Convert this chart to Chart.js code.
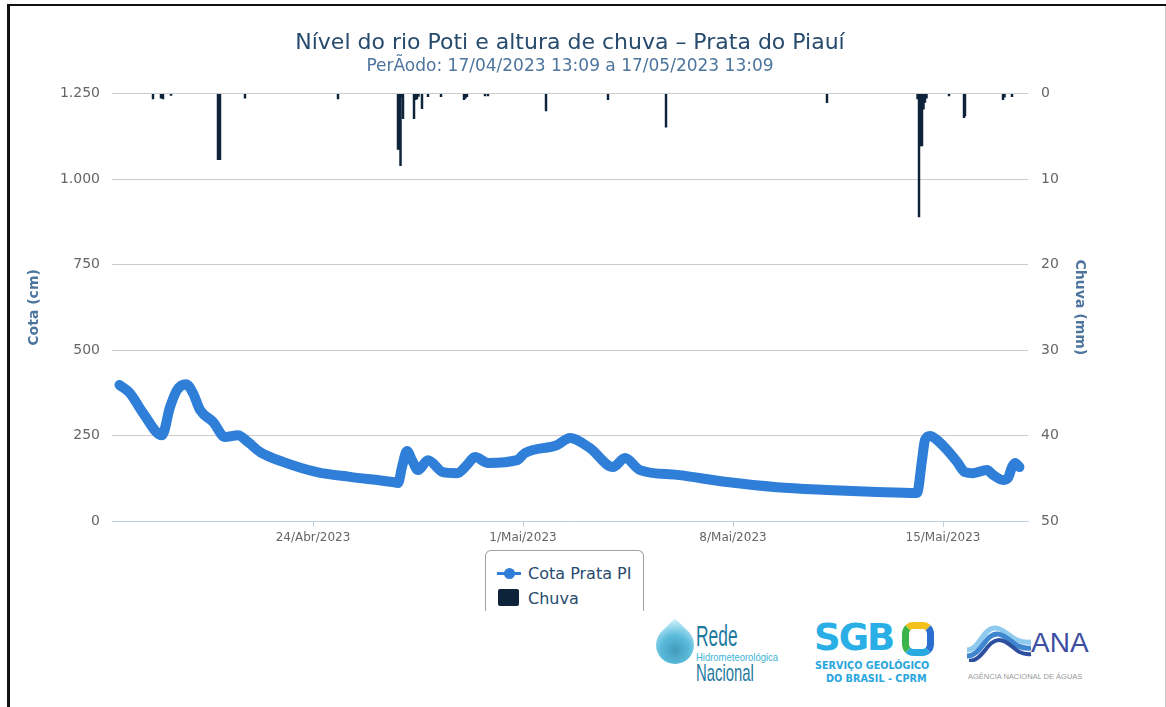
<!DOCTYPE html>
<html lang="pt-BR">
<head>
<meta charset="utf-8">
<title>Nível do rio Poti e altura de chuva – Prata do Piauí</title>
<script src="https://cdn.jsdelivr.net/npm/chart.js@4.4.0/dist/chart.umd.min.js"></script>
<style>
  html, body { margin: 0; padding: 0; background: #fff; }
  body { width: 1166px; height: 707px; position: relative; overflow: hidden; font-family: 'DejaVu Sans', sans-serif; }
  .moldura-topo { position: absolute; left: 7px; right: 0; top: 4px; height: 2px; background: #111; }
  .moldura-esq { position: absolute; left: 7px; top: 4px; bottom: 0; width: 3px; background: #111; }
  .moldura-dir { position: absolute; left: 1165px; top: 6px; bottom: 0; width: 1px; background: #c8c8c8; }
  #grafico { position: absolute; left: 10px; top: 6px; }
  #legenda { position: absolute; left: 485px; top: 550px; width: 157px; height: 60px;
    border: 1px solid #a0a0a0; border-bottom: none; border-radius: 6px 6px 0 0; background: #fff; }
  #legenda .item { position: absolute; left: 11px; height: 20px; display: flex; align-items: center;
    font-size: 16px; color: #274b6d; white-space: nowrap; }
  #legenda .simbolo { width: 24px; height: 20px; position: relative; margin-right: 7px; }
  .logo { position: absolute; white-space: nowrap; transform-origin: left top; font-family: 'Liberation Sans', Arial, sans-serif; }
  .gota { position: absolute; left: 656px; top: 626px; width: 38px; height: 38px;
    border-radius: 0 50% 50% 50%; transform: rotate(45deg);
    background: radial-gradient(circle at 60% 60%, #2d8fb3 0%, #48b3d6 45%, #9fdcef 80%, #dff4fb 100%); opacity: .9; }
</style>
</head>
<body>
<div class="moldura-topo"></div>
<div class="moldura-esq"></div>
<div class="moldura-dir"></div>
<canvas id="grafico" width="1100" height="560"></canvas>
<div id="legenda"></div>

<div class="gota"></div>
<div class="logo" style="left:696px;top:619px;font-size:30px;color:#1d7a9f;transform:scaleX(0.58);">Rede</div>
<div class="logo" style="left:696px;top:651px;font-size:11px;color:#3cb4d6;transform:scaleX(0.86);">Hidrometeorológica</div>
<div class="logo" style="left:696px;top:659px;font-size:24px;color:#1f7ba0;transform:scaleX(0.62);">Nacional</div>

<div class="logo" style="left:814px;top:616px;font-size:37px;font-weight:bold;color:#29aee6;letter-spacing:-2px;font-family:'DejaVu Sans',sans-serif;">SGB</div>
<div style="position:absolute;left:902px;top:622px;width:18px;height:20px;border:7px solid;border-color:#f2c21b #2a6fcf #2aa9e0 #3bb54a;border-radius:35%;"></div>
<div class="logo" style="left:815px;top:659px;font-size:10.5px;font-weight:bold;color:#29a6dd;font-family:'DejaVu Sans',sans-serif;transform:scaleX(0.92);">SERVIÇO GEOLÓGICO</div>
<div class="logo" style="left:826px;top:672px;font-size:10.5px;font-weight:bold;color:#29a6dd;font-family:'DejaVu Sans',sans-serif;transform:scaleX(0.92);">DO BRASIL - CPRM</div>

<svg style="position:absolute;left:965px;top:620px;" width="68" height="42" viewBox="0 0 68 42">
  <path d="M2 30 C14 30 18 8 30 8 C42 8 46 24 66 22" stroke="#8ec9ee" stroke-width="5" fill="none"/>
  <path d="M2 36 C16 36 20 14 32 14 C44 14 48 30 66 28" stroke="#3f86d0" stroke-width="5" fill="none"/>
  <path d="M4 41 C18 41 22 20 34 20 C46 20 50 36 66 34" stroke="#2c4f9e" stroke-width="4" fill="none"/>
</svg>
<div class="logo" style="left:1031px;top:627px;font-size:28px;color:#3e4fa3;">ANA</div>
<div class="logo" style="left:968px;top:672px;font-size:7.5px;color:#9a9a9a;">AGÊNCIA NACIONAL DE ÁGUAS</div>

<script>
// eixo x em dias a partir de 17/04/2023 00:00
const diasTicks = [7, 14, 21, 28];
const rotulosTicks = ['24/Abr/2023', '1/Mai/2023', '8/Mai/2023', '15/Mai/2023'];

// Cota Prata PI (cm)
const cotaDias = [0.548, 0.9, 1.333, 1.967, 2.233, 2.467, 2.767, 3.0, 3.233, 3.667, 4.067, 4.5, 4.833, 5.233, 6.0,
  7.133, 8.233, 9.667, 9.833, 9.967, 10.133, 10.3, 10.5, 10.833, 11.333, 11.8, 12.133, 12.4, 12.833, 13.8,
  14.067, 15.133, 15.567, 16.233, 17.0, 17.4, 17.9, 19.133, 20.8, 22.467, 24.133, 25.8, 27.133,
  27.3, 27.4, 27.567, 27.8, 28.133, 28.467, 28.733, 29.0, 29.467, 29.667, 30.0, 30.167, 30.3, 30.4, 30.548];
const cotaValores = [398, 374, 316, 251, 333, 383, 400, 374, 325, 290, 246, 251, 231, 202, 173,
  143, 129, 114, 111, 158, 205, 178, 149, 178, 143, 140, 164, 187, 170, 178,
  199, 222, 243, 213, 158, 184, 149, 135, 114, 99, 91, 85, 82,
  178, 237, 249, 237, 208, 173, 143, 140, 149, 135, 120, 126, 158, 170, 158];

// Chuva (mm)
const chuvaDias = [1.667, 1.933, 2.0, 2.267, 3.833, 3.9, 4.733, 7.833, 9.833, 9.883, 9.917, 9.967, 10.0,
  10.367, 10.417, 10.467, 10.517, 10.633, 10.833, 11.267, 12.033, 12.083, 12.133, 12.733, 12.833,
  14.767, 16.833, 18.767, 24.133, 27.15, 27.2, 27.25, 27.3, 27.35, 27.4, 27.45, 28.2, 28.7, 28.733,
  30.0, 30.05, 30.3];
const chuvaValores = [0.6, 0.5, 0.6, 0.2, 7.7, 7.7, 0.5, 0.6, 6.5, 6.5, 8.4, 0.4, 2.9,
  2.9, 0.7, 0.6, 0.3, 1.75, 0.35, 0.35, 0.7, 0.5, 0.35, 0.25, 0.25,
  2.0, 0.7, 3.9, 1.05, 0.6, 14.4, 6.1, 6.1, 1.8, 1.0, 0.5, 0.25, 2.8, 2.6,
  0.7, 0.4, 0.35];

const fonte = "'DejaVu Sans', sans-serif";
const corTexto = '#666666';

function milhar(v) {
  return String(v).replace(/\B(?=(\d{3})+(?!\d))/g, '.');
}

function render_chart() {
  const data = {
    datasets: [
      {
        type: 'line',
        label: 'Cota Prata PI',
        data: cotaDias.map((d, i) => ({ x: d, y: cotaValores[i] })),
        borderColor: '#2f7ed8',
        backgroundColor: '#2f7ed8',
        borderWidth: 10,
        borderCapStyle: 'round',
        borderJoinStyle: 'round',
        cubicInterpolationMode: 'monotone',
        pointRadius: 0,
        yAxisID: 'y',
        order: 1,
      },
      {
        type: 'bar',
        label: 'Chuva',
        data: chuvaDias.map((d, i) => ({ x: d, y: chuvaValores[i] })),
        backgroundColor: '#0d233a',
        barThickness: 1.8,
        yAxisID: 'y2',
        order: 2,
      },
    ],
  }
  const config = {
    type: 'bar',
    data: data,
    options: {
      responsive: false,
      animation: false,
      events: [],
      layout: { padding: 0 },
      plugins: {
        legend: { display: false },
        tooltip: { enabled: false },
        title: {
          display: true,
          fullSize: false,
          text: 'Nível do rio Poti e altura de chuva – Prata do Piauí',
          color: '#274b6d',
          font: { family: fonte, size: 22, weight: 'normal' },
          padding: { top: 24, bottom: 0 },
        },
        subtitle: {
          display: true,
          fullSize: false,
          text: 'PerÃodo: 17/04/2023 13:09 a 17/05/2023 13:09',
          color: '#4d759e',
          font: { family: fonte, size: 17 },
          padding: { top: 0, bottom: 17 },
        },
      },
      scales: {
        x: {
          type: 'linear',
          min: 0.3,
          max: 30.833,
          offset: false,
          afterBuildTicks: s => { s.ticks = diasTicks.map(v => ({ value: v })) },
          afterFit: s => { s.height = 45 },
          ticks: {
            autoSkip: false,
            maxRotation: 0,
            color: corTexto,
            font: { family: fonte, size: 12 },
            padding: 4,
            callback: v => rotulosTicks[diasTicks.indexOf(v)],
          },
          grid: { offset: false, drawOnChartArea: false, drawTicks: true, tickLength: 6, color: '#c0d0e0' },
          border: { color: '#c0d0e0' },
        },
        y: {
          position: 'left',
          min: 0,
          max: 1250,
          afterFit: s => { s.width = 102 },
          ticks: {
            stepSize: 250,
            color: corTexto,
            font: { family: fonte, size: 14 },
            padding: 12,
            callback: v => milhar(v),
          },
          grid: {
            drawTicks: false,
            color: c => (c.tick && c.tick.value === 0 ? 'rgba(0,0,0,0)' : '#cccccc'),
          },
          border: { display: false },
          title: {
            display: true,
            text: 'Cota (cm)',
            color: '#4d759e',
            font: { family: fonte, size: 14, weight: 'bold' },
            padding: { top: 16, bottom: 0 },
          },
        },
        y2: {
          position: 'right',
          reverse: true,
          min: 0,
          max: 50,
          afterFit: s => { s.width = 82 },
          ticks: {
            stepSize: 10,
            color: corTexto,
            font: { family: fonte, size: 14 },
            padding: 13,
          },
          grid: { drawOnChartArea: false, drawTicks: false },
          border: { display: false },
          title: {
            display: true,
            text: 'Chuva (mm)',
            color: '#4d759e',
            font: { family: fonte, size: 14, weight: 'bold' },
            padding: { top: 22, bottom: 0 },
          },
        },
      },
    },
  }
  const myChart = new Chart(document.getElementById('grafico'), config)

  // legenda em HTML, montada a partir dos datasets do grafico
  const legenda = document.getElementById('legenda')
  myChart.data.datasets.forEach((ds, i) => {
    const item = document.createElement('div')
    item.className = 'item'
    item.style.top = (12 + i * 25) + 'px'
    const simb = document.createElement('span')
    simb.className = 'simbolo'
    if (ds.type === 'line') {
      simb.innerHTML = '<span style="position:absolute;left:0;top:9px;width:24px;height:3px;background:' + ds.borderColor + '"></span>' +
        '<span style="position:absolute;left:7px;top:5px;width:11px;height:11px;border-radius:50%;background:' + ds.borderColor + '"></span>'
    } else {
      simb.innerHTML = '<span style="position:absolute;left:1px;top:1px;width:21px;height:17px;border-radius:2px;background:' + ds.backgroundColor + '"></span>'
    }
    const txt = document.createElement('span')
    txt.textContent = ds.label
    item.appendChild(simb)
    item.appendChild(txt)
    legenda.appendChild(item)
  })
}
document.addEventListener('DOMContentLoaded', render_chart)
</script>
</body>
</html>
